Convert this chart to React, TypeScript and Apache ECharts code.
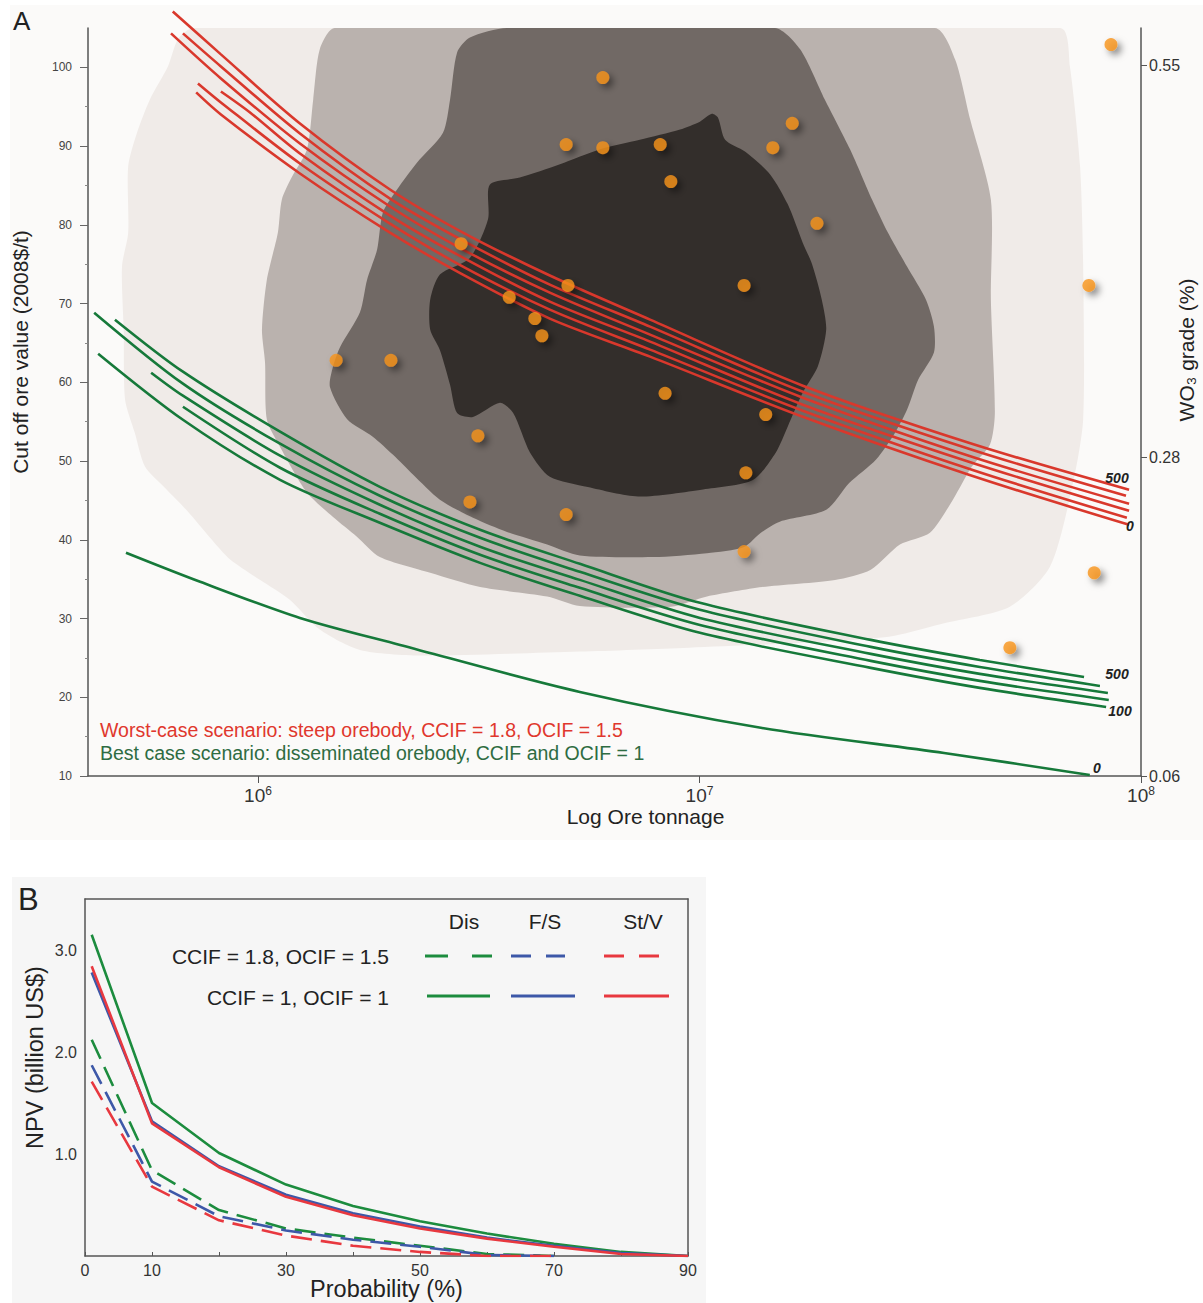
import React, { useEffect, useRef } from 'react';
import * as echarts from 'echarts';

const FONT = '"Liberation Sans", Arial, Helvetica, sans-serif';

// ---------- Panel A data (x = log10 ore tonnage, y = cut-off ore value 2008$/t) ----------
const xTickLog = [6, 7, 8];
const leftTicks = [10, 20, 30, 40, 50, 60, 70, 80, 90, 100];
const leftMinorTicks = [15, 25, 35, 45, 55, 65, 75, 85, 95];
const gradeTicks = [0.06, 0.28, 0.55];

const pointLogT = [7.932, 6.781, 7.21, 6.698, 6.781, 6.911, 7.166, 6.935, 7.266, 6.46, 7.882, 6.569, 6.702, 7.101, 6.627, 6.643, 6.177, 6.301, 6.922, 7.15, 6.498, 7.105, 6.48, 6.698, 7.101, 7.894, 7.703];
const pointValue = [102.9, 98.7, 92.9, 90.2, 89.8, 90.2, 89.8, 85.5, 80.2, 77.6, 72.3, 70.8, 72.3, 72.3, 68.1, 65.9, 62.8, 62.8, 58.6, 55.9, 53.2, 48.5, 44.8, 43.2, 38.5, 35.8, 26.3];

const red500 = [[5.807, 107.1], [5.916, 101.65], [6.095, 92.88], [6.299, 84.49], [6.46, 79.15], [6.661, 73.56], [6.888, 67.96], [7.234, 59.57], [7.617, 52.2], [7.973, 46.35]];
const red400 = [[5.83, 104.32], [5.916, 100.12], [6.095, 91.6], [6.299, 83.34], [6.46, 78.13], [6.661, 72.41], [6.888, 67.07], [7.234, 58.81], [7.617, 51.44], [7.966, 45.59]];
const red300 = [[5.803, 104.32], [5.916, 98.6], [6.095, 90.33], [6.299, 82.33], [6.46, 76.99], [6.661, 71.39], [6.888, 66.06], [7.234, 58.05], [7.617, 50.55], [7.973, 44.57]];
const red200 = [[5.916, 96.94], [5.982, 94.27], [6.095, 89.06], [6.299, 81.18], [6.46, 75.97], [6.661, 70.25], [6.888, 65.17], [7.234, 57.16], [7.617, 49.79], [7.973, 43.68]];
const red100 = [[5.864, 97.96], [5.916, 95.55], [6.095, 87.79], [6.299, 80.16], [6.46, 74.83], [6.661, 69.23], [6.888, 64.15], [7.234, 56.4], [7.617, 48.9], [7.968, 42.79]];
const red0 = [[5.86, 96.82], [5.916, 94.02], [6.095, 86.52], [6.299, 79.02], [6.46, 73.81], [6.661, 68.09], [6.888, 63.26], [7.234, 55.63], [7.617, 48.13], [7.973, 41.9]];

const green500 = [[5.676, 67.96], [5.83, 61.35], [6.05, 53.73], [6.276, 46.73], [6.503, 41.27], [6.729, 36.95], [7.001, 31.99], [7.388, 27.29], [7.635, 24.74], [7.871, 22.58]];
const green400 = [[5.629, 68.85], [5.83, 59.83], [6.05, 52.2], [6.276, 45.59], [6.503, 40.25], [6.729, 35.93], [7.001, 31.1], [7.388, 26.4], [7.635, 23.85], [7.907, 21.44]];
const green300 = [[5.758, 61.22], [5.83, 58.3], [6.05, 50.68], [6.276, 44.45], [6.503, 39.11], [6.729, 34.91], [7.001, 30.08], [7.388, 25.51], [7.635, 22.97], [7.925, 20.55]];
const green200 = [[5.83, 56.9], [6.05, 49.15], [6.276, 43.3], [6.503, 38.09], [6.729, 33.9], [7.001, 29.19], [7.388, 24.62], [7.635, 22.08], [7.927, 19.66]];
const green100 = [[5.638, 63.64], [5.83, 55.25], [6.05, 47.62], [6.276, 42.16], [6.503, 37.07], [6.729, 32.88], [7.001, 28.18], [7.388, 23.73], [7.635, 21.19], [7.921, 18.77]];
const green0 = [[5.701, 38.35], [5.869, 34.66], [6.095, 30.08], [6.322, 26.65], [6.729, 20.68], [7.142, 16.1], [7.554, 12.92], [7.884, 10.13]];

const contourLight = [[5.853, 105], [7.817, 105], [7.839, 100.1], [7.862, 87.4], [7.869, 74.7], [7.869, 55.3], [7.846, 47.2], [7.794, 36.6], [7.703, 31.5], [7.554, 29.4], [7.429, 27.7], [7.223, 26.9], [6.976, 26.3], [6.729, 25.8], [6.367, 25.3], [6.231, 26.0], [6.14, 28.6], [6.072, 32.4], [6.005, 34.9], [5.937, 37.5], [5.891, 40.3], [5.841, 43.6], [5.789, 46.6], [5.744, 49.3], [5.721, 53.6], [5.699, 57.8], [5.696, 66.3], [5.692, 74.7], [5.706, 79.0], [5.706, 87.4], [5.726, 91.7], [5.755, 95.9], [5.796, 100.1], [5.819, 103.6]];
const contourMid = [[6.174, 105], [7.533, 105], [7.579, 101.0], [7.613, 93.4], [7.66, 83.2], [7.66, 70.5], [7.669, 56.1], [7.658, 52.1], [7.617, 49.3], [7.574, 45.1], [7.522, 40.9], [7.454, 39.4], [7.388, 36.2], [7.307, 34.9], [7.142, 34.0], [7.017, 32.8], [6.935, 31.5], [6.729, 31.6], [6.655, 32.8], [6.503, 34.0], [6.39, 35.8], [6.276, 37.8], [6.224, 40.4], [6.17, 42.9], [6.111, 46.0], [6.05, 51.8], [6.02, 55.3], [6.016, 62.5], [6.009, 66.7], [6.02, 73.0], [6.045, 79.0], [6.054, 83.2], [6.077, 86.1], [6.111, 89.6], [6.125, 95.9], [6.14, 102.3]];
const contourDark = [[6.564, 105], [7.171, 105], [7.228, 102.3], [7.284, 95.9], [7.341, 89.6], [7.391, 83.2], [7.427, 79.0], [7.47, 74.7], [7.513, 70.5], [7.531, 67.1], [7.531, 63.8], [7.495, 60.3], [7.47, 56.5], [7.443, 53.6], [7.4, 50.2], [7.339, 47.2], [7.287, 43.8], [7.182, 42.3], [7.139, 40.9], [7.101, 39.1], [7.017, 38.3], [6.895, 37.8], [6.729, 38.0], [6.655, 39.4], [6.564, 41.0], [6.487, 42.8], [6.412, 45.1], [6.351, 48.3], [6.306, 50.8], [6.26, 53.1], [6.202, 55.3], [6.163, 59.4], [6.17, 62.0], [6.186, 64.5], [6.231, 68.9], [6.247, 73.0], [6.27, 76.9], [6.283, 81.6], [6.315, 84.5], [6.36, 87.9], [6.419, 91.7], [6.435, 95.9], [6.451, 101.9], [6.48, 103.8]];
const contourCore = [[6.525, 85.1], [6.593, 86.0], [6.684, 87.7], [6.775, 89.6], [6.865, 90.8], [6.956, 92.1], [7.001, 93.1], [7.028, 94.1], [7.042, 93.6], [7.058, 90.8], [7.103, 89.3], [7.16, 86.4], [7.2, 82.6], [7.234, 77.7], [7.255, 75.0], [7.277, 70.5], [7.287, 66.7], [7.268, 62.0], [7.234, 58.7], [7.2, 54.4], [7.173, 51.1], [7.121, 47.6], [7.008, 46.4], [6.861, 45.5], [6.747, 46.7], [6.661, 48.0], [6.616, 51.1], [6.578, 56.1], [6.548, 57.4], [6.487, 55.6], [6.451, 56.1], [6.435, 59.7], [6.412, 64.1], [6.39, 66.7], [6.39, 70.5], [6.412, 73.7], [6.48, 75.8], [6.521, 80.7]];

// ---------- Panel B data ----------
const probX = [1, 10, 20, 30, 40, 50, 60, 70, 80, 90];
const disSolid = [3.15, 1.5, 1.01, 0.7, 0.49, 0.34, 0.22, 0.12, 0.04, 0];
const fsSolid = [2.78, 1.32, 0.88, 0.6, 0.42, 0.29, 0.18, 0.1, 0.03, 0];
const stvSolid = [2.84, 1.3, 0.87, 0.58, 0.4, 0.27, 0.17, 0.09, 0.02, 0];
const probXDashed = [1, 10, 20, 30, 40, 50, 60, 70];
const disDashed = [2.12, 0.84, 0.45, 0.27, 0.18, 0.1, 0.02, 0];
const fsDashed = [1.87, 0.73, 0.39, 0.25, 0.16, 0.09, 0.01, 0];
const stvDashed = [1.71, 0.68, 0.35, 0.2, 0.1, 0.04, 0, 0];
const probLabels = [0, 10, 30, 50, 70, 90];
const npvLabels = [1, 2, 3];

const RED = '#d9382c';
const GREEN = '#16793a';
const B_GREEN = '#1c8c3e';
const B_BLUE = '#3d58a8';
const B_RED = '#e8383f';

const contourList = [contourLight, contourMid, contourDark, contourCore];
const contourColors = ['#f0ebe8', '#bab2ae', '#716965', '#332e2b'];

function buildOption() {
  const lineA = (data: number[][], color: string) => ({
    type: 'line',
    xAxisIndex: 0,
    yAxisIndex: 0,
    data,
    symbol: 'none',
    showSymbol: false,
    smooth: 0.3,
    clip: false,
    silent: true,
    z: 3,
    lineStyle: { color, width: 2.6 },
  });
  const lineB = (xs: number[], ys: number[], color: string, dashed: boolean) => ({
    type: 'line',
    xAxisIndex: 1,
    yAxisIndex: 3,
    data: xs.map((x, i) => [x, ys[i]]),
    symbol: 'none',
    showSymbol: false,
    silent: true,
    z: 3,
    lineStyle: { color, width: 2.6, type: dashed ? [21, 9] : 'solid' },
  });
  const axisLine = { show: true, onZero: false, lineStyle: { color: '#555', width: 1.5 } };
  const txt = (text: string, x: number, y: number, extra: any = {}) => ({
    type: 'text',
    x,
    y,
    z: 50,
    style: { text, fill: '#222', fontSize: 16, fontFamily: FONT, align: 'left', verticalAlign: 'middle', ...extra },
  });
  const seg = (x1: number, x2: number, y: number, color: string) => ({
    type: 'line',
    z: 50,
    shape: { x1, y1: y, x2, y2: y },
    style: { stroke: color, lineWidth: 3 },
  });
  const lbl = { fontSize: 14, fontStyle: 'italic', fontWeight: 'bold', align: 'center', fill: '#222' };

  return {
    animation: false,
    backgroundColor: '#ffffff',
    grid: [
      { left: 88, top: 28, width: 1053, height: 748, outerBoundsMode: 'none', containLabel: false },
      { left: 85, top: 899, width: 603, height: 357, outerBoundsMode: 'none', containLabel: false },
    ],
    xAxis: [
      {
        gridIndex: 0,
        type: 'value',
        min: 5.615,
        max: 8,
        axisLine,
        axisTick: { show: true, customValues: xTickLog, length: 7, lineStyle: { color: '#555' } },
        axisLabel: {
          customValues: xTickLog,
          formatter: (v: number) => `10{s|${Math.round(v)}}`,
          color: '#333',
          fontSize: 19,
          fontFamily: FONT,
          margin: 9,
          lineHeight: 21,
          rich: { s: { fontSize: 12, lineHeight: 12, verticalAlign: 'top', color: '#333', fontFamily: FONT } },
        },
        splitLine: { show: false },
        name: 'Log Ore tonnage',
        nameLocation: 'middle',
        nameGap: 30,
        nameMoveOverlap: false,
        nameTextStyle: { fontSize: 21, color: '#222', fontFamily: FONT, padding: [0, 0, 0, 62] },
      },
      {
        gridIndex: 1,
        type: 'value',
        min: 0,
        max: 90,
        interval: 10,
        axisLine,
        axisTick: { show: true, inside: true, length: 4, lineStyle: { color: '#555' } },
        axisLabel: { customValues: probLabels, color: '#333', fontSize: 16, fontFamily: FONT, margin: 6 },
        splitLine: { show: false },
        name: 'Probability (%)',
        nameLocation: 'middle',
        nameGap: 21,
        nameMoveOverlap: false,
        nameTextStyle: { fontSize: 23.5, color: '#222', fontFamily: FONT },
      },
      {
        gridIndex: 1,
        type: 'value',
        position: 'top',
        min: 0,
        max: 90,
        axisLine,
        axisTick: { show: false },
        axisLabel: { show: false },
        splitLine: { show: false },
      },
    ],
    yAxis: [
      {
        gridIndex: 0,
        type: 'value',
        position: 'left',
        min: 10,
        max: 105,
        axisLine,
        axisTick: { show: true, customValues: leftTicks, length: 8, lineStyle: { color: '#666' } },
        axisLabel: { customValues: leftTicks, color: '#444', fontSize: 12, fontFamily: FONT, margin: 16 },
        splitLine: { show: false },
        name: 'Cut off ore value (2008$/t)',
        nameLocation: 'middle',
        nameRotate: 90,
        nameGap: 57,
        nameMoveOverlap: false,
        nameTextStyle: { fontSize: 21, color: '#222', fontFamily: FONT, padding: [0, 0, 0, 100] },
      },
      {
        gridIndex: 0,
        type: 'value',
        position: 'right',
        min: 0.06,
        max: 0.576,
        axisLine,
        axisTick: { show: true, customValues: gradeTicks, length: 6, lineStyle: { color: '#555' } },
        axisLabel: {
          customValues: gradeTicks,
          formatter: (v: number) => v.toFixed(2),
          color: '#333',
          fontSize: 16,
          fontFamily: FONT,
          margin: 8,
        },
        splitLine: { show: false },
        name: 'WO₃ grade (%)',
        nameLocation: 'middle',
        nameRotate: 90,
        nameGap: 35,
        nameMoveOverlap: false,
        nameTextStyle: { fontSize: 21, color: '#222', fontFamily: FONT, padding: [0, 0, 0, 104] },
      },
      {
        gridIndex: 0,
        type: 'value',
        position: 'left',
        min: 10,
        max: 105,
        axisLine: { show: false },
        axisTick: { show: true, customValues: leftMinorTicks, length: 3, lineStyle: { color: '#888' } },
        axisLabel: { show: false },
        splitLine: { show: false },
      },
      {
        gridIndex: 1,
        type: 'value',
        min: 0,
        max: 3.5,
        axisLine,
        axisTick: { show: false },
        axisLabel: {
          customValues: npvLabels,
          formatter: (v: number) => v.toFixed(1),
          color: '#333',
          fontSize: 16,
          fontFamily: FONT,
          margin: 8,
        },
        splitLine: { show: false },
        name: 'NPV (billion US$)',
        nameLocation: 'middle',
        nameRotate: 90,
        nameGap: 38,
        nameMoveOverlap: false,
        nameTextStyle: { fontSize: 23.5, color: '#222', fontFamily: FONT, padding: [0, 0, 0, 40] },
      },
      {
        gridIndex: 1,
        type: 'value',
        position: 'right',
        min: 0,
        max: 3.5,
        axisLine,
        axisTick: { show: false },
        axisLabel: { show: false },
        splitLine: { show: false },
      },
    ],
    graphic: [
      { type: 'rect', z: -10, shape: { x: 10, y: 5, width: 1193, height: 835 }, style: { fill: '#fbfaf9' } },
      { type: 'rect', z: -10, shape: { x: 12, y: 877, width: 694, height: 426 }, style: { fill: '#f6f6f6' } },
      txt('A', 13, 21, { fontSize: 26, fill: '#222' }),
      txt('B', 18, 899, { fontSize: 31, fill: '#222' }),
      txt('Worst-case scenario: steep orebody, CCIF = 1.8, OCIF = 1.5', 100, 730, { fontSize: 19.5, fill: '#e0372d' }),
      txt('Best case scenario: disseminated orebody, CCIF and OCIF = 1', 100, 753, { fontSize: 19.5, fill: '#2e6c42' }),
      txt('500', 1117, 478, lbl),
      txt('0', 1130, 526, lbl),
      txt('500', 1117, 674, lbl),
      txt('100', 1120, 711, lbl),
      txt('0', 1097, 768, lbl),
      txt('Dis', 464, 921, { fontSize: 21, align: 'center' }),
      txt('F/S', 545, 921, { fontSize: 21, align: 'center' }),
      txt('St/V', 643, 921, { fontSize: 21, align: 'center' }),
      txt('CCIF = 1.8, OCIF = 1.5', 389, 956, { fontSize: 21, align: 'right' }),
      txt('CCIF = 1, OCIF = 1', 389, 997, { fontSize: 21, align: 'right' }),
      seg(425, 448, 956, B_GREEN),
      seg(472, 492, 956, B_GREEN),
      seg(511, 531, 956, B_BLUE),
      seg(546, 565, 956, B_BLUE),
      seg(604, 624, 956, B_RED),
      seg(639, 659, 956, B_RED),
      seg(427, 490, 996, B_GREEN),
      seg(511, 575, 996, B_BLUE),
      seg(604, 669, 996, B_RED),
    ],
    series: [
      {
        type: 'custom',
        xAxisIndex: 0,
        yAxisIndex: 0,
        clip: true,
        silent: true,
        z: 1,
        data: contourList.map((c, i) => [c[0][0], c[0][1], i]),
        renderItem: (params: any, api: any) => {
          const idx = params.dataIndex;
          const pts = contourList[idx].map((p) => api.coord(p));
          return {
            type: 'polygon',
            z2: idx,
            shape: { points: pts, smooth: 0.25 },
            style: { fill: contourColors[idx] },
          };
        },
      },
      lineA(red500, RED),
      lineA(red400, RED),
      lineA(red300, RED),
      lineA(red200, RED),
      lineA(red100, RED),
      lineA(red0, RED),
      lineA(green500, GREEN),
      lineA(green400, GREEN),
      lineA(green300, GREEN),
      lineA(green200, GREEN),
      lineA(green100, GREEN),
      lineA(green0, GREEN),
      {
        type: 'scatter',
        xAxisIndex: 0,
        yAxisIndex: 0,
        data: pointLogT.map((x, i) => [x, pointValue[i]]),
        symbolSize: 13,
        silent: true,
        z: 5,
        itemStyle: {
          color: '#f7941d',
          shadowBlur: 7,
          shadowColor: 'rgba(0,0,0,0.55)',
          shadowOffsetX: 4,
          shadowOffsetY: 4,
        },
      },
      lineB(probX, disSolid, B_GREEN, false),
      lineB(probX, fsSolid, B_BLUE, false),
      lineB(probX, stvSolid, B_RED, false),
      lineB(probXDashed, disDashed, B_GREEN, true),
      lineB(probXDashed, fsDashed, B_BLUE, true),
      lineB(probXDashed, stvDashed, B_RED, true),
    ],
  };
}

export default function App() {
  const ref = useRef<HTMLDivElement>(null);
  useEffect(() => {
    document.body.style.margin = '0';
    const chart = echarts.init(ref.current as HTMLDivElement, undefined, { renderer: 'svg' });
    chart.setOption(buildOption() as any);
    return () => chart.dispose();
  }, []);
  return <div ref={ref} style={{ width: 1203, height: 1303 }} />;
}
